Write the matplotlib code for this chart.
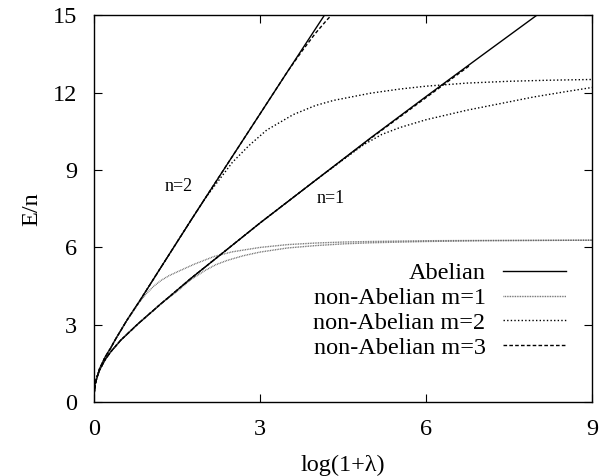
import numpy as np
import matplotlib
matplotlib.use('Agg')
import matplotlib.pyplot as plt

plt.rcParams['font.family'] = ['Liberation Serif', 'DejaVu Serif']

# Abelian vortices, E/n against log(1+lambda)
x_ab1 = [0, 0.02, 0.05, 0.1, 0.2, 0.3, 0.48, 0.8, 1.2, 1.5, 1.75, 2.1, 3.0, 4.0, 5.0, 6.0, 7.0, 8.0, 8.1]
e_ab1 = [0.3, 0.7, 0.95, 1.25, 1.65, 1.95, 2.4, 3.05, 3.8, 4.34, 4.8, 5.4, 6.95, 8.6, 10.25, 11.85, 13.43, 15.0, 15.16]

x_ab2 = [0, 0.02, 0.05, 0.1, 0.2, 0.3, 0.39, 0.6, 0.84, 1.2, 1.75, 2.0, 2.46, 3.0, 3.5, 4.0, 4.3]
e_ab2 = [0.3, 0.7, 0.95, 1.3, 1.75, 2.1, 2.45, 3.2, 3.98, 5.2, 7.05, 7.88, 9.4, 11.18, 12.83, 14.47, 15.45]

# non-Abelian m=1
x_m1n1 = [0, 0.02, 0.05, 0.1, 0.2, 0.3, 0.48, 0.8, 1.2, 1.5, 1.75, 2.0, 2.2, 2.41, 2.7, 3.0, 3.5, 4.0, 4.52, 5.0, 6.0, 7.0, 8.0, 9.0]
e_m1n1 = [0.3, 0.7, 0.95, 1.25, 1.65, 1.95, 2.4, 3.05, 3.8, 4.3, 4.75, 5.1, 5.33, 5.5, 5.68, 5.82, 5.98, 6.07, 6.14, 6.18, 6.23, 6.26, 6.27, 6.28]

x_m1n2 = [0, 0.02, 0.05, 0.1, 0.2, 0.3, 0.39, 0.6, 0.84, 0.95, 1.08, 1.21, 1.35, 1.5, 1.81, 2.17, 2.5, 3.0, 3.5, 4.0, 4.52, 5.0, 6.0, 7.0, 9.0]
e_m1n2 = [0.3, 0.7, 0.95, 1.3, 1.75, 2.1, 2.45, 3.2, 3.93, 4.22, 4.5, 4.72, 4.9, 5.05, 5.35, 5.65, 5.83, 6.0, 6.11, 6.17, 6.21, 6.23, 6.26, 6.27, 6.28]

# non-Abelian m=2
x_m2n1 = [0, 0.02, 0.05, 0.1, 0.2, 0.3, 0.48, 0.8, 1.2, 1.75, 2.1, 3.0, 4.0, 4.5, 4.87, 5.2, 5.53, 6.0, 6.74, 7.4, 7.94, 8.5, 9.0]
e_m2n1 = [0.3, 0.7, 0.95, 1.25, 1.65, 1.95, 2.4, 3.05, 3.8, 4.8, 5.4, 6.95, 8.6, 9.4, 9.98, 10.38, 10.65, 10.95, 11.32, 11.6, 11.83, 12.03, 12.2]

x_m2n2 = [0, 0.02, 0.05, 0.1, 0.2, 0.3, 0.39, 0.6, 0.84, 1.2, 1.75, 2.0, 2.2, 2.5, 2.8, 3.12, 3.6, 4.0, 4.33, 5.0, 5.53, 6.0, 6.74, 7.5, 8.2, 9.0]
e_m2n2 = [0.3, 0.7, 0.95, 1.3, 1.75, 2.1, 2.45, 3.2, 3.98, 5.2, 7.05, 7.88, 8.45, 9.3, 9.95, 10.55, 11.15, 11.5, 11.7, 11.98, 12.14, 12.25, 12.37, 12.44, 12.48, 12.51]

# non-Abelian m=3
x_m3n1 = [0, 0.02, 0.05, 0.1, 0.2, 0.3, 0.48, 0.8, 1.2, 1.75, 2.1, 3.0, 4.0, 5.0, 6.0, 6.8]
e_m3n1 = [0.3, 0.7, 0.95, 1.25, 1.65, 1.95, 2.4, 3.05, 3.8, 4.8, 5.4, 6.95, 8.6, 10.23, 11.81, 13.07]

x_m3n2 = [0, 0.02, 0.05, 0.1, 0.2, 0.3, 0.39, 0.6, 0.84, 1.2, 1.75, 2.0, 2.46, 3.0, 3.5, 3.76, 4.0, 4.2, 4.4]
e_m3n2 = [0.3, 0.7, 0.95, 1.3, 1.75, 2.1, 2.45, 3.2, 3.98, 5.2, 7.05, 7.88, 9.4, 11.18, 12.83, 13.62, 14.3, 14.8, 15.25]

xticks = [0, 3, 6, 9]
yticks = [0, 3, 6, 9, 12, 15]

fig = plt.figure(figsize=(6.03, 4.76), dpi=100)
ax = fig.add_axes([0.156, 0.155, 0.826, 0.813])

ab_style = dict(color='black', lw=1.0, linestyle='-')
m1_style = dict(color='#606060', lw=1.0, linestyle=(0, (0.6, 0.6)))
m2_style = dict(color='black', lw=1.0, linestyle=(0, (1.0, 1.6)))
m3_style = dict(color='black', lw=1.0, linestyle=(0, (2.6, 1.6)))

ax.plot(x_ab1, e_ab1, label='Abelian', **ab_style)
ax.plot(x_ab2, e_ab2, **ab_style)
ax.plot(x_m1n1, e_m1n1, label='non-Abelian m=1', **m1_style)
ax.plot(x_m1n2, e_m1n2, **m1_style)
ax.plot(x_m2n1, e_m2n1, label='non-Abelian m=2', **m2_style)
ax.plot(x_m2n2, e_m2n2, **m2_style)
ax.plot(x_m3n1, e_m3n1, label='non-Abelian m=3', **m3_style)
ax.plot(x_m3n2, e_m3n2, **m3_style)

ax.text(1.52, 8.37, 'n=2', fontsize=13, ha='center', va='center')
ax.text(4.27, 7.9, 'n=1', fontsize=13, ha='center', va='center')

ax.set_xlim(0, 9)
ax.set_ylim(0, 15)
ax.set_xticks(xticks)
ax.set_yticks(yticks)
ax.tick_params(direction='in', top=True, right=True, length=6, width=0.8,
               labelsize=17.5, pad=12)
for s in ax.spines.values():
    s.set_linewidth(1.0)

ax.set_xlabel('log(1+λ)', fontsize=17.5, labelpad=11)
ax.set_ylabel('E/n', fontsize=17.5, labelpad=8)

ax.legend(loc='lower right', bbox_to_anchor=(0.947, 0.112), frameon=False,
          markerfirst=False, fontsize=17.5, handlelength=2.6,
          handletextpad=0.7, labelspacing=0.12, borderpad=0, borderaxespad=0)

fig.savefig('out.png', dpi=100)
